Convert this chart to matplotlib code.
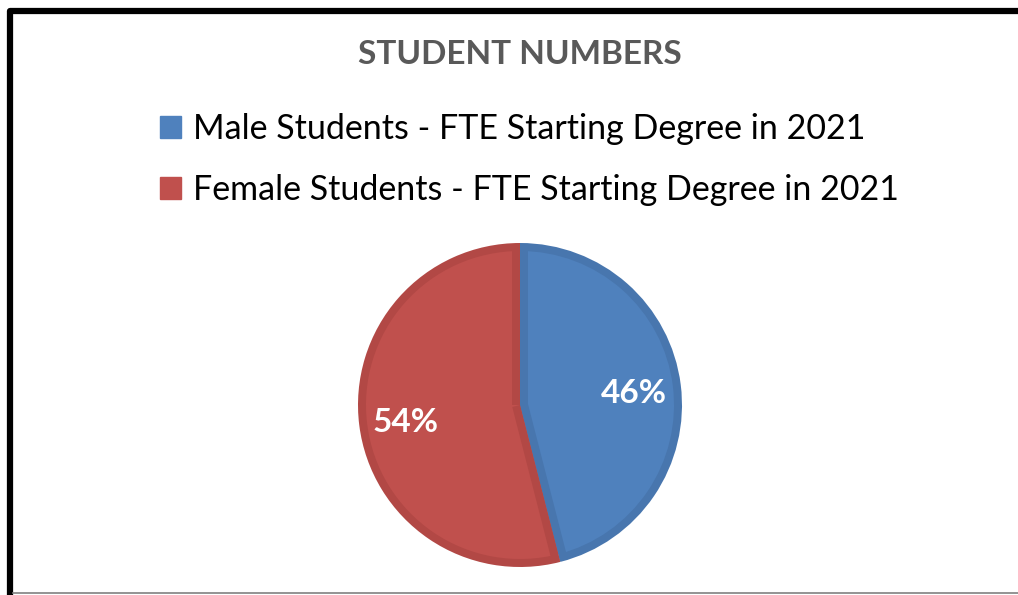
import numpy as np
import matplotlib.pyplot as plt
import matplotlib.transforms as mtransforms
from matplotlib.lines import Line2D
from matplotlib.patches import Patch

plt.rcParams['font.family'] = ['Lato', 'DejaVu Sans']

labels = ["Male Students - FTE Starting Degree in 2021",
          "Female Students - FTE Starting Degree in 2021"]
shares = [46, 54]
face_colors = ["#4F81BD", "#C0504D"]
edge_colors = ["#4876AE", "#B24845"]

W, H = 1018, 595
fig = plt.figure(figsize=(W / 100, H / 100), dpi=100)

# pie axes: centre (520, 405) px, radius 162 px, inner outline 8 px
cx, cy, r, band = 520, 405, 162, 8
ax = fig.add_axes([(cx - r) / W, (H - cy - r) / H, 2 * r / W, 2 * r / H])

# outer layer gives the darker rim
rim, _ = ax.pie(shares, colors=edge_colors, startangle=90, counterclock=False,
                radius=1, wedgeprops=dict(linewidth=0))
inner = (r - band) / r
wedges, texts, autotexts = ax.pie(
    shares, colors=face_colors, startangle=90, counterclock=False,
    autopct="%d%%", pctdistance=0.71 / inner, radius=inner,
    wedgeprops=dict(linewidth=0),
    textprops=dict(color="white", fontsize=24, fontweight="bold"))

# darker strips along the straight edges, inside each slice
off = band / 2 / 100  # inches
for w, ec in zip(wedges, edge_colors):
    for th, sgn in ((w.theta1, 1), (w.theta2, -1)):
        t = np.deg2rad(th)
        dx, dy = -np.sin(t) * sgn * off, np.cos(t) * sgn * off
        tr = ax.transData + mtransforms.ScaledTranslation(dx, dy, fig.dpi_scale_trans)
        ax.plot([0, 0.99 * np.cos(t)], [0, 0.99 * np.sin(t)], color=ec,
                lw=band * 0.72, solid_capstyle="butt", transform=tr, zorder=2)
for t in autotexts:
    t.set_zorder(5)
    t.set_transform(t.get_transform() +
                    mtransforms.ScaledTranslation(0, -0.03, fig.dpi_scale_trans))
ax.set_xlim(-1, 1)
ax.set_ylim(-1, 1)
ax.axis("off")

fig.text(cx / W, 1 - 55 / H, "STUDENT NUMBERS", ha="center", va="center",
         fontsize=24, fontweight="bold", color="#595959")

handles = [Patch(facecolor=c, edgecolor=c) for c in face_colors]
fig.legend(handles, labels, loc="upper left", bbox_to_anchor=(160 / W, 1 - 113 / H),
           frameon=False, fontsize=24.5, handlelength=0.62, handleheight=0.62,
           handletextpad=0.34, labelspacing=0.84, borderaxespad=0, borderpad=0)

# chart frame
fig.add_artist(Line2D([10 / W, 10 / W, 1.0], [0, 1 - 11 / H, 1 - 11 / H],
                      transform=fig.transFigure, color="black", lw=4.5,
                      solid_joinstyle="round"))
fig.add_artist(Line2D([13 / W, 1.0], [2 / H, 2 / H], transform=fig.transFigure,
                      color="#808080", lw=1.2))

fig.savefig("out.png", dpi=100)
